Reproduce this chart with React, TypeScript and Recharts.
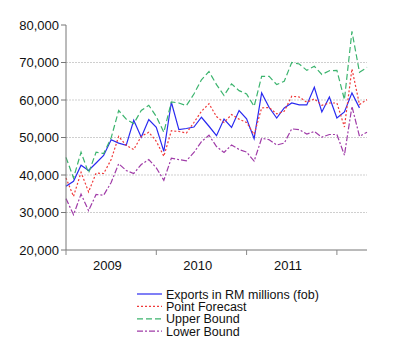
import { CartesianGrid, Line, LineChart, XAxis, YAxis } from "recharts";

const exportsRM = [
  37000, 38300, 42600, 41200, 43200, 45200, 49400, 48500, 47900, 54600, 50100, 54800,
  52700, 46300, 59400, 52100, 52400, 52800, 55400, 53000, 50500, 54900, 52700, 57200,
  55000, 49700, 61900, 58000, 55200, 57900, 59200, 58700, 58700, 63400, 56800, 60800,
  55200, 56800, 61900, 57900,
];
const pointForecast = [
  39200, 34300, 40700, 35500, 40500, 40400, 44100, 50300, 47900, 46800, 50300, 51400,
  49000, 45000, 51800, 51600, 51200, 54000, 57000, 59000, 55600, 54000, 56100, 54900,
  54000, 50800, 57900, 58000, 56300, 57000, 61000, 60800, 59400, 60300, 58600, 59200,
  59200, 52800, 68300, 58800, 60100,
];
const upperBound = [
  44700, 39200, 46100, 40500, 46100, 45700, 49900, 57200, 54900, 53700, 57200, 58600,
  55600, 51400, 59500, 59200, 58500, 61600, 65400, 67600, 64100, 61200, 64300, 62500,
  61600, 58300, 66300, 66300, 64100, 65000, 70000, 69600, 67900, 69000, 66800, 67800,
  67900, 60100, 78300, 67400, 68700,
];
const lowerBound = [
  33700, 29400, 34900, 30500, 34800, 34600, 38000, 43000, 41200, 40400, 42800, 44100,
  41900, 38600, 44500, 44100, 43800, 46000, 48900, 50600, 47600, 46000, 48000, 46800,
  46100, 43700, 49800, 49400, 48000, 48500, 52300, 52100, 50900, 51600, 50100, 50800,
  50800, 45300, 58300, 50300, 51400,
];
const years = ["2009", "2010", "2011"];
const yTicks = [20000, 30000, 40000, 50000, 60000, 70000, 80000];

const data = pointForecast.map((_, i) => ({
  idx: i,
  exports: i < exportsRM.length ? exportsRM[i] : null,
  point: pointForecast[i],
  upper: upperBound[i],
  lower: lowerBound[i],
}));

const series = [
  { key: "exports", name: "Exports in RM millions (fob)", color: "#2a2af0", dash: undefined },
  { key: "point", name: "Point Forecast", color: "#f03a3a", dash: "2 2" },
  { key: "upper", name: "Upper Bound", color: "#3cb46e", dash: "6 3" },
  { key: "lower", name: "Lower Bound", color: "#a03ca8", dash: "6 2 2 2" },
];

const FONT = "'Liberation Sans', Arial, sans-serif";

function YearTick({ x, y, payload }: any) {
  const v = payload.value;
  if (v % 12 === 0) {
    return <line x1={x} y1={y} x2={x} y2={y + 5} stroke="#888" />;
  }
  const label = years[Math.floor(v / 12)];
  return (
    <text x={x} y={y + 20} textAnchor="middle" fontSize={13} fill="#111" fontFamily={FONT}>
      {label}
    </text>
  );
}

function LegendBox() {
  return (
    <svg width={200} height={54} style={{ position: "absolute", left: 137, top: 287 }}>
      {series.map((s, i) => (
        <g key={s.key}>
          <line x1={0} x2={25} y1={7 + i * 12.4} y2={7 + i * 12.4} stroke={s.color}
            strokeWidth={1.2} strokeDasharray={s.dash} />
          <text x={29} y={11.5 + i * 12.4} fontSize={12.5} fill="#111" fontFamily={FONT}>
            {s.name}
          </text>
        </g>
      ))}
    </svg>
  );
}

export default function App() {
  return (
    <div style={{ position: "absolute", left: 0, top: 0, width: 400, height: 361, background: "#fff" }}>
      <LineChart width={400} height={361} data={data}
        margin={{ top: 25, right: 33, left: 0, bottom: 81 }}>
        <CartesianGrid vertical={false} stroke="#cfcfcf" strokeDasharray="2 1"
          horizontalValues={[30000, 40000, 50000, 60000, 70000]} />
        <XAxis dataKey="idx" type="number" domain={[0, 40]}
          ticks={[0, 5.5, 12, 17.5, 24, 29.5, 36]} interval={0}
          tick={<YearTick />} tickLine={false} tickSize={0} tickMargin={0}
          height={30} stroke="#777" />
        <YAxis domain={[20000, 80000]} ticks={yTicks} width={66} tickSize={5}
          tickFormatter={(v: number) => v.toLocaleString("en-US")}
          tick={{ fontSize: 13, fill: "#111", fontFamily: FONT }}
          stroke="#777" allowDataOverflow />
        {series.map((s) => (
          <Line key={s.key} dataKey={s.key} name={s.name} stroke={s.color}
            strokeDasharray={s.dash} strokeWidth={1.2} dot={false}
            type="linear" isAnimationActive={false} connectNulls={false} />
        ))}
      </LineChart>
      <LegendBox />
    </div>
  );
}
